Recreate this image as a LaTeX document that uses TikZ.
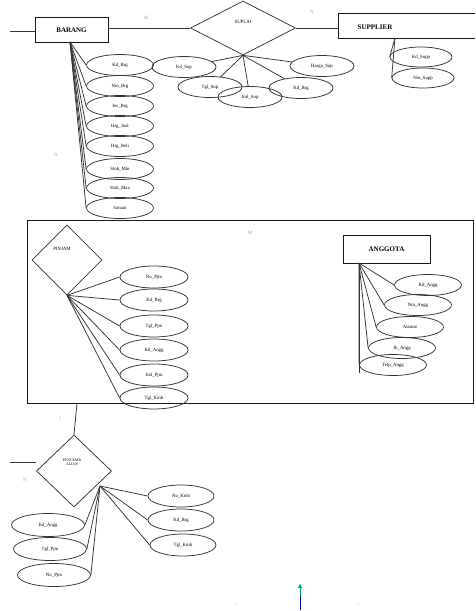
\documentclass[tikz,border=0pt]{standalone}
\usepackage{fontspec}
\setmainfont{Liberation Serif}
\usetikzlibrary{shapes.geometric,arrows.meta}
\begin{document}
\begin{tikzpicture}[x=1pt,y=-1pt,
  entity/.style={draw=black!90,line width=0.9pt,rectangle,inner sep=0pt,
    font=\fontsize{7}{8}\selectfont\bfseries},
  attr/.style={draw=black!80,line width=0.75pt,ellipse,inner sep=0pt,
    minimum width=66pt,minimum height=21pt,font=\fontsize{4.8}{5}\selectfont},
  rel/.style={draw=black!80,line width=0.75pt,diamond,inner sep=0pt,
    font=\fontsize{4.8}{5}\selectfont},
  link/.style={draw=black!80,line width=0.75pt},
  card/.style={text=black!35,font=\fontsize{5}{6}\selectfont},
]
\useasboundingbox (0,0) rectangle (475,611);

% ---------- BARANG ----------
\node[entity,minimum width=73pt,minimum height=25pt] (brg) at (71.5,30) {BARANG};
\coordinate (brgin) at (10,31);
\draw[link] (brgin) -- (brg.west|-brgin);
\coordinate (bf) at (70,42);
\foreach \i/\y/\t in {1/65/Kd\_Brg,2/86/Nm\_Brg,3/106/Jns\_Brg,4/126/Hrg\_Jual,
                       5/146/Hrg\_Beli,6/169/Stok\_Min,7/188/Stok\_Max,8/208/Satuan}
  \node[attr,minimum width=67pt] (b\i) at (120,\y) {\t};
\foreach \i in {1,...,8} \draw[link] (bf) -- (b\i.west);
\node[card] (cb) at (56,155) {N};

% ---------- SUPLAI ----------
\node[rel,minimum width=105pt,minimum height=54pt] (sup) at (243,28) {};
\node[font=\fontsize{4.8}{5}\selectfont] (supt) at (243,22) {SUPLAI};
\draw[link] (brg.east|-sup.west) -- (sup.west);
\node[card] (cm) at (146,18) {M};
\node[card] (cn) at (312,12) {N};
\foreach \n/\x/\y/\t in {s1/184/67/Kd\_Sup,s2/210/87/Tgl\_Sup,s3/250/97/Jml\_Sup,
                         s4/301/88/Kd\_Brg,s5/322/66/Harga\_Sup}
  \node[attr,minimum width=64pt] (\n) at (\x,\y) {\t};
\foreach \n in {s1,s2,s3,s4,s5} \draw[link] (sup.south) -- (\n);

% ---------- SUPPLIER ----------
\node[font=\fontsize{7}{8}\selectfont\bfseries] (spl) at (375,27) {SUPPLIER};
\draw[line width=0.9pt,black!90] (475,13) -- (338,13) -- (338,38) -- (475,38);
\coordinate (splw) at (338,28);
\draw[link] (sup.east) -- (splw);
\coordinate (sf) at (395,38);
\node[attr,minimum width=62pt,minimum height=20pt] (p1) at (421,57) {Kd\_Supp};
\node[attr,minimum width=62pt,minimum height=20pt] (p2) at (423,78) {Nm\_Supp};
\draw[link] (sf) -- (p1.west);
\draw[link] (sf) -- (p2.west);

% ---------- aggregation PINJAM ----------
\draw[line width=1pt,black!90] (27,220) rectangle (473,403);
\node[card] (ca) at (250,233) {M};
\node[rel,minimum width=70pt,minimum height=70pt] (pjm) at (67,260) {};
\node[font=\fontsize{4.8}{5}\selectfont] (pjmt) at (62,249) {PINJAM};
\foreach \i/\y/\t in {1/277/No\_Pjm,2/300/Kd\_Brg,3/326/Tgl\_Pjm,
                       4/350/Kd\_Angg,5/375/Jml\_Pjm,6/398/Tgl\_Kmb}
  \node[attr,minimum width=68pt,minimum height=22pt] (q\i) at (154,\y) {\t};
\foreach \i in {1,...,6} \draw[link] (pjm.south) -- (q\i.west);

% ---------- ANGGOTA ----------
\node[entity,minimum width=87pt,minimum height=28pt] (agt) at (386.5,249) {ANGGOTA};
\coordinate (af) at (359,263);
\foreach \i/\x/\y/\t in {1/428/285/Kd\_Angg,2/418/305/Nm\_Angg,3/410/327/Alamat,
                         4/402/348/Jk\_Angg,5/393/365/Telp\_Angg}
  \node[attr,minimum width=67pt,minimum height=21pt] (g\i) at (\x,\y) {\t};
\foreach \i in {1,...,5} \draw[link] (af) -- (g\i.west);
\coordinate (ab) at (359,373);
\draw[link] (af) -- (ab);

% ---------- PENGEMBALIAN ----------
\node[rel,minimum width=75pt,minimum height=72pt] (kmb) at (74,471) {};
\node[font=\fontsize{3.8}{4.2}\selectfont,align=center] (kmbt) at (72,462) {PENGEMB\\ALIAN};
\coordinate (aggb) at (77,403);
\draw[link] (aggb) -- (kmb.north);
\node[card] (c1) at (60,418) {1};
\coordinate (kin) at (10,462);
\draw[link] (kin) -- (kmb.west|-kin);
\node[card] (c2) at (25,480) {N};
\coordinate (kp) at (100,486);
\foreach \i/\x/\y/\t in {1/181/496/No\_Kmb,2/181/520/Kd\_Brg,3/183/545/Tgl\_Kmb}
  \node[attr,minimum width=66pt,minimum height=22pt] (r\i) at (\x,\y) {\t};
\foreach \i in {1,2,3} \draw[link] (kp) -- (r\i.west);
\foreach \i/\x/\y/\t in {1/48/525/Kd\_Angg,2/50/549/Tgl\_Pjm,3/54/575/No\_Pjm}
  \node[attr,minimum width=73pt,minimum height=23pt] (l\i) at (\x,\y) {\t};
\foreach \i in {1,2,3} \draw[link] (kp) -- (l\i.east);

% ---------- small marker at the bottom ----------
\coordinate (mk0) at (300,610);
\coordinate (mk1) at (300,584);
\draw[blue!70!black,line width=0.8pt] (mk0) -- (300,597);
\draw[teal!80!green,line width=0.8pt,-{Triangle[width=4pt,length=4pt]}] (300,597) -- (mk1);
\node[black!50,font=\fontsize{5}{5}\selectfont] (mkl) at (237,606) {-};
\node[black!50,font=\fontsize{5}{5}\selectfont] (mkr) at (358,606) {-};
\end{tikzpicture}
\end{document}
